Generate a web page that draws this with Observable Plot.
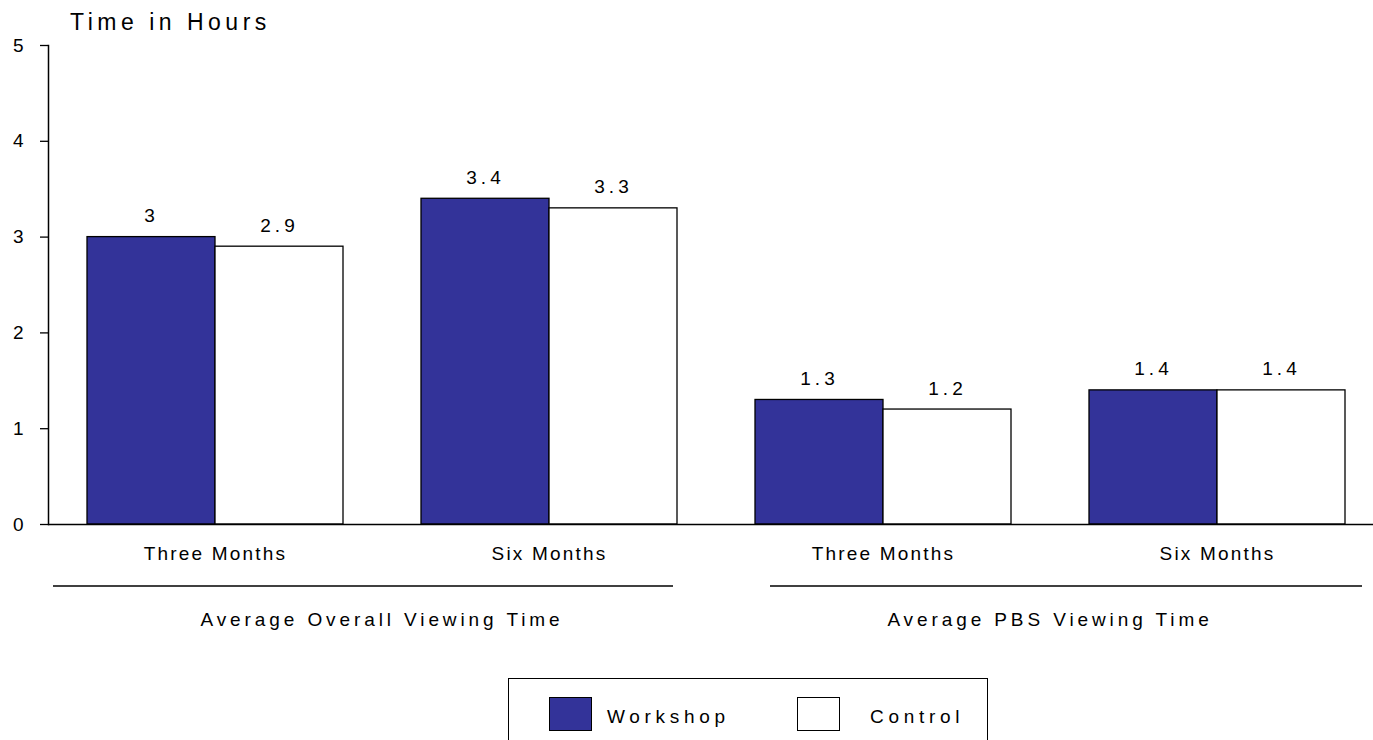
<!DOCTYPE html>
<html>
<head>
<meta charset="utf-8">
<script src="https://cdn.jsdelivr.net/npm/d3@7"></script>
<script src="https://cdn.jsdelivr.net/npm/@observablehq/plot@0.6"></script>
<style>
  html, body { margin: 0; padding: 0; background: #fff; overflow: hidden; }
  body { width: 1373px; height: 740px; font-family: "Liberation Sans", Arial, sans-serif; color: #000; }
  #title { position: relative; height: 35px; }
  #title span { position: absolute; left: 70px; top: 11px; font-size: 23px; line-height: 23px; letter-spacing: 4.5px; }
  #chart svg { display: block; }
  g[aria-label="fx-axis tick label"] text { letter-spacing: 2.2px; }
  g[aria-label="text"] text { letter-spacing: 4px; }
  .group-label { letter-spacing: 3.9px; }
  #legend { position: absolute; left: 508px; top: 678px; width: 480px; height: 80px; border: 1.5px solid #000; border-bottom: none; box-sizing: border-box; }
  .sw { position: absolute; top: 18px; width: 43px; height: 34px; border: 1.5px solid #000; box-sizing: border-box; }
  .lt { position: absolute; top: 28px; font-size: 19px; line-height: 19px; letter-spacing: 4.7px; }
</style>
</head>
<body>
<div id="title"><span>Time in Hours</span></div>
<div id="chart"></div>
<div id="legend"></div>
<script>
// ---- data ----
const measures = ["Average Overall Viewing Time", "Average Overall Viewing Time", "Average PBS Viewing Time", "Average PBS Viewing Time"];
const periods = ["Three Months", "Six Months", "Three Months", "Six Months"];
const series = ["Workshop", "Control"];
const workshopValues = [3, 3.4, 1.3, 1.4];
const controlValues = [2.9, 3.3, 1.2, 1.4];
const yTicks = [0, 1, 2, 3, 4, 5];
const seriesColors = ["#333399", "#ffffff"];

// ---- build table ----
const keys = measures.map((m, i) => m + "|" + periods[i]);
const rows = [];
keys.forEach((k, i) => {
  rows.push({key: k, series: "Workshop", value: workshopValues[i]});
  rows.push({key: k, series: "Control", value: controlValues[i]});
});

const chart = Plot.plot({
  width: 1373,
  height: 625,
  marginTop: 10,
  marginLeft: 48,
  marginRight: 0,
  marginBottom: 136,
  style: {fontFamily: "'Liberation Sans', Arial, sans-serif", fontSize: "19px", color: "#000", background: "#fff", overflow: "visible"},
  fx: {domain: keys, range: [48, 1384], padding: 0, label: null},
  x: {domain: series, paddingInner: 0, paddingOuter: 0.2986, axis: null},
  y: {domain: [0, 5], label: null},
  color: {domain: series, range: seriesColors},
  marks: [
    Plot.barY(rows, {fx: "key", x: "series", y: "value", fill: "series", stroke: "#000", strokeWidth: 1.3}),
    Plot.text(rows, {fx: "key", x: "series", y: "value", text: d => String(d.value), dy: -21, fontSize: 19}),
    Plot.ruleY([0], {stroke: "#000", strokeWidth: 1.5}),
    Plot.frame({anchor: "left", facetAnchor: "left", stroke: "#000", strokeWidth: 1.5}),
    Plot.axisY({ticks: yTicks, tickFormat: "d", tickSize: 8, tickPadding: 17, label: null, fontSize: 19, strokeWidth: 1.3}),
    Plot.axisFx({anchor: "bottom", tickSize: 0, tickPadding: 22, label: null, fontSize: 19, tickFormat: k => k.split("|")[1]})
  ]
});
document.getElementById("chart").appendChild(chart);

// ---- group annotations using Plot's own scales ----
const fx = chart.scale("fx");
const y0 = chart.scale("y").apply(0);
const groups = Array.from(new Set(measures));
const ruleInsets = [[5, 43], [54, 22]];
const svg = d3.select(chart);
groups.forEach((g, gi) => {
  const gKeys = keys.filter((k, i) => measures[i] === g);
  const start = fx.apply(gKeys[0]);
  const end = fx.apply(gKeys[gKeys.length - 1]) + fx.bandwidth;
  const center = (start + end) / 2;
  svg.append("line")
    .attr("x1", start + ruleInsets[gi][0]).attr("x2", end - ruleInsets[gi][1])
    .attr("y1", y0 + 62).attr("y2", y0 + 62)
    .attr("stroke", "#000").attr("stroke-width", 1.5);
  svg.append("text")
    .attr("class", "group-label")
    .attr("x", center).attr("y", y0 + 95)
    .attr("text-anchor", "middle").attr("dominant-baseline", "central")
    .attr("font-size", 19).attr("fill", "#000")
    .text(g);
});

// ---- legend ----
const legend = d3.select("#legend");
const swLeft = [40, 288];
const txtLeft = [98, 361];
series.forEach((s, i) => {
  legend.append("div").attr("class", "sw").style("left", swLeft[i] + "px").style("background", seriesColors[i]);
  legend.append("div").attr("class", "lt").style("left", txtLeft[i] + "px").text(s);
});
</script>
</body>
</html>
